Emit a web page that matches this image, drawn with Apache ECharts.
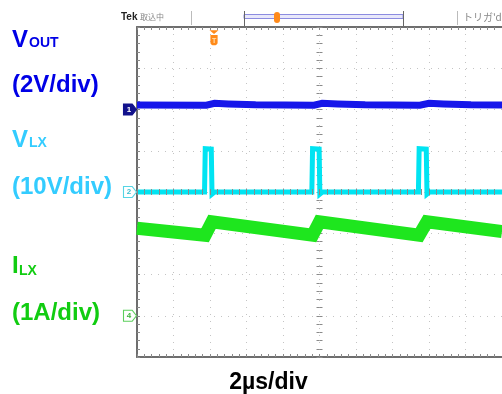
<!DOCTYPE html>
<html><head><meta charset="utf-8">
<script src="https://cdn.jsdelivr.net/npm/echarts@6/dist/echarts.min.js"></script>
<style>html,body{margin:0;padding:0;background:#fff}#c{width:502px;height:394px}</style>
</head><body><div id="c"></div>
<script>
// ---- data (time in µs, 2 µs/div, 10 divisions) ----
const timeRange = [0, 20];
const voutT = [0, 3.8, 4.25, 5.0, 6.5, 9.7, 10.15, 11.0, 12.5, 15.5, 16.0, 16.8, 18.3, 20];
const voutV = [0.22, 0.21, 0.30, 0.27, 0.23, 0.21, 0.30, 0.27, 0.23, 0.21, 0.30, 0.27, 0.23, 0.22];
const vlxT = [0, 3.70, 3.74, 3.80, 4.07, 4.11, 4.25, 9.58, 9.62, 9.68, 9.98, 10.02, 10.16, 15.42, 15.46, 15.52, 15.85, 15.89, 16.03, 20];
const vlxV = [0, 0, 10.5, 10.5, 10.4, -0.5, 0, 0, 10.5, 10.5, 10.4, -0.5, 0, 0, 10.5, 10.5, 10.4, -0.5, 0, 0];
const ilxT = [0, 3.73, 4.11, 9.62, 10.0, 15.46, 15.89, 20];
const ilxA = [2.12, 1.95, 2.28, 1.95, 2.28, 1.95, 2.28, 2.04];
// channel settings: scale per division and ground position (divisions from bottom)
const ch1 = {name: 'VOUT', perDiv: 2, groundDiv: 6};
const ch2 = {name: 'VLX', perDiv: 10, groundDiv: 4};
const ch4 = {name: 'ILX', perDiv: 1, groundDiv: 1};
const divX = 10, divY = 8;
const triggerT = 4.22;

const zip = (a, b) => a.map((v, i) => [v, b[i]]);
const chAxis = (ch) => ({gridIndex: 0, type: 'value', show: false,
  min: -ch.groundDiv * ch.perDiv, max: (divY - ch.groundDiv) * ch.perDiv});

const GRID = {left: 137, top: 27, width: 370, height: 330};
const FONT = '"Liberation Sans", Arial, sans-serif';
const dotLine = {show: true, lineStyle: {color: '#c4c4c4', width: 1, type: [1, 6]}};
const tickIn = {show: true, inside: true, length: 3, lineStyle: {color: '#8a8a8a'}};
const minorIn = {show: true, splitNumber: 5, length: 3, lineStyle: {color: '#8a8a8a'}};

const chart = echarts.init(document.getElementById('c'), null, {renderer: 'canvas'});

function marker(label, fill, stroke, txt) {
  return {symbol: 'path://M0,0 L8,0 L12,5 L8,10 L0,10 Z', symbolSize: [13, 11], symbolOffset: [-7, 0],
    silent: true, animation: false,
    label: {show: true, position: 'inside', offset: [-1, 0], formatter: label, color: txt, fontSize: 8, fontWeight: 'bold', fontFamily: FONT},
    itemStyle: {color: fill, borderColor: stroke, borderWidth: 1},
    data: [{coord: [timeRange[0], 0]}]};
}

chart.setOption({
  animation: false,
  backgroundColor: '#ffffff',
  grid: [Object.assign({show: false}, GRID), Object.assign({}, GRID), Object.assign({}, GRID)],
  xAxis: [
    {gridIndex: 0, type: 'value', min: timeRange[0], max: timeRange[1], interval: (timeRange[1] - timeRange[0]) / divX,
      position: 'bottom', axisLine: {show: true, onZero: false, lineStyle: {color: '#6e6e6e', width: 2}},
      axisTick: tickIn, minorTick: minorIn, axisLabel: {show: false}, splitLine: dotLine},
    {gridIndex: 0, type: 'value', min: timeRange[0], max: timeRange[1], interval: (timeRange[1] - timeRange[0]) / divX,
      position: 'top', axisLine: {show: true, onZero: false, lineStyle: {color: '#6e6e6e', width: 2}},
      axisTick: tickIn, minorTick: minorIn, axisLabel: {show: false}, splitLine: {show: false}},
    {gridIndex: 1, type: 'value', min: -divX, max: divX, interval: 2, z: 10,
      axisLine: {show: false, onZero: true}, axisTick: tickIn, minorTick: minorIn, axisLabel: {show: false}, splitLine: {show: false}},
    {gridIndex: 2, type: 'value', min: -divX, max: divX, interval: 2, z: 10,
      axisLine: {show: false, onZero: true}, axisTick: Object.assign({}, tickIn, {inside: false}), minorTick: minorIn, axisLabel: {show: false}, splitLine: {show: false}}
  ],
  yAxis: [
    {gridIndex: 0, type: 'value', min: 0, max: divY, interval: 1, position: 'left',
      axisLine: {show: true, onZero: false, lineStyle: {color: '#6e6e6e', width: 2}},
      axisTick: tickIn, minorTick: minorIn, axisLabel: {show: false}, splitLine: dotLine},
    chAxis(ch1), chAxis(ch2), chAxis(ch4),
    {gridIndex: 1, type: 'value', min: -divY / 2, max: divY / 2, interval: 1,
      axisLine: {show: false, onZero: true}, axisTick: tickIn, minorTick: minorIn, axisLabel: {show: false}, splitLine: {show: false}},
    {gridIndex: 2, type: 'value', min: -divY / 2, max: divY / 2, interval: 1,
      axisLine: {show: false, onZero: true}, axisTick: Object.assign({}, tickIn, {inside: false}), minorTick: minorIn, axisLabel: {show: false}, splitLine: {show: false}}
  ],
  series: [
    {type: 'line', name: ch4.name, xAxisIndex: 0, yAxisIndex: 3, data: zip(ilxT, ilxA), showSymbol: false, clip: true,
      lineStyle: {color: '#1ee61e', width: 13, join: 'miter', cap: 'butt'}, z: 3, markPoint: marker('4', '#ffffff', '#5ccf5c', '#3cb43c')},
    {type: 'line', name: ch2.name, xAxisIndex: 0, yAxisIndex: 2, data: zip(vlxT, vlxV), showSymbol: false, clip: true,
      lineStyle: {color: '#00e4f2', width: 5, join: 'miter', cap: 'butt'}, z: 4,
      markPoint: {
        silent: true, animation: false,
        data: [
          {coord: [timeRange[0], 0], symbol: 'path://M0,0 L8,0 L12,5 L8,10 L0,10 Z', symbolSize: [13, 11], symbolOffset: [-7, 0],
            itemStyle: {color: '#ffffff', borderColor: '#55d5e5', borderWidth: 1},
            label: {show: true, position: 'inside', offset: [-1, 0], formatter: '2', color: '#3cbfd0', fontSize: 8, fontWeight: 'bold', fontFamily: FONT}},
          {coord: [triggerT, 37.4], symbol: 'path://M0,0 L10,0 L5,4 Z M1,5 L9,5 L9,13 Q9,16 5,16 Q1,16 1,13 Z', symbolSize: [9, 15],
            itemStyle: {color: '#ff8a1a'},
            label: {show: true, position: 'inside', offset: [0, 3], formatter: 'T', color: '#ffe0b0', fontSize: 7, fontWeight: 'bold', fontFamily: FONT}}
        ]}},
    {type: 'line', name: ch1.name, xAxisIndex: 0, yAxisIndex: 1, data: zip(voutT, voutV), showSymbol: false, clip: true,
      lineStyle: {color: '#1616ea', width: 7, join: 'miter', cap: 'butt'}, z: 5, markPoint: marker('1', '#12128c', '#12128c', '#ffffff')}
  ],
  graphic: [
    // left labels
    {type: 'text', x: 12, y: 40, style: {text: 'V', font: 'bold 24px ' + FONT, fill: '#0000e6', verticalAlign: 'middle'}},
    {type: 'text', x: 29, y: 43, style: {text: 'OUT', font: 'bold 14px ' + FONT, fill: '#0000e6', verticalAlign: 'middle'}},
    {type: 'text', x: 12, y: 85, style: {text: '(2V/div)', font: 'bold 24px ' + FONT, fill: '#0000e6', verticalAlign: 'middle'}},
    {type: 'text', x: 12, y: 140, style: {text: 'V', font: 'bold 24px ' + FONT, fill: '#33ccff', verticalAlign: 'middle'}},
    {type: 'text', x: 29, y: 143.5, style: {text: 'LX', font: 'bold 14px ' + FONT, fill: '#33ccff', verticalAlign: 'middle'}},
    {type: 'text', x: 12, y: 187, style: {text: '(10V/div)', font: 'bold 24px ' + FONT, fill: '#33ccff', verticalAlign: 'middle'}},
    {type: 'text', x: 12, y: 266.5, style: {text: 'I', font: 'bold 24px ' + FONT, fill: '#11cc11', verticalAlign: 'middle'}},
    {type: 'text', x: 19, y: 271, style: {text: 'LX', font: 'bold 14px ' + FONT, fill: '#11cc11', verticalAlign: 'middle'}},
    {type: 'text', x: 12, y: 313.5, style: {text: '(1A/div)', font: 'bold 24px ' + FONT, fill: '#11cc11', verticalAlign: 'middle'}},
    // bottom label
    {type: 'text', x: 268.5, y: 382.5, style: {text: '2µs/div', font: 'bold 23px ' + FONT, fill: '#000000', align: 'center', verticalAlign: 'middle'}},
    // scope header
    {type: 'text', x: 121, y: 17, style: {text: 'Tek', font: 'bold 10px ' + FONT, fill: '#222', verticalAlign: 'middle'}},
    {type: 'text', x: 140, y: 17, style: {text: '取込中', font: '8px "Noto Sans CJK JP"', fill: '#888', verticalAlign: 'middle'}},
    {type: 'line', shape: {x1: 191.5, y1: 11, x2: 191.5, y2: 25}, style: {stroke: '#bbb', lineWidth: 1}},
    {type: 'rect', shape: {x: 244, y: 14.5, width: 159, height: 4}, style: {fill: '#e8e8fb', stroke: '#8c8ce0', lineWidth: 1}},
    {type: 'line', shape: {x1: 244.5, y1: 11, x2: 244.5, y2: 26}, style: {stroke: '#666', lineWidth: 1}},
    {type: 'line', shape: {x1: 403.5, y1: 11, x2: 403.5, y2: 26}, style: {stroke: '#666', lineWidth: 1}},
    {type: 'rect', shape: {x: 274, y: 12, width: 6, height: 11, r: 3}, style: {fill: '#ff8a1a'}},
    {type: 'line', shape: {x1: 457.5, y1: 11, x2: 457.5, y2: 25}, style: {stroke: '#bbb', lineWidth: 1}},
    {type: 'text', x: 463, y: 17, style: {text: "トリガ'd", font: '10px "Noto Sans CJK JP"', fill: '#888', verticalAlign: 'middle'}}
  ]
});
</script></body></html>
